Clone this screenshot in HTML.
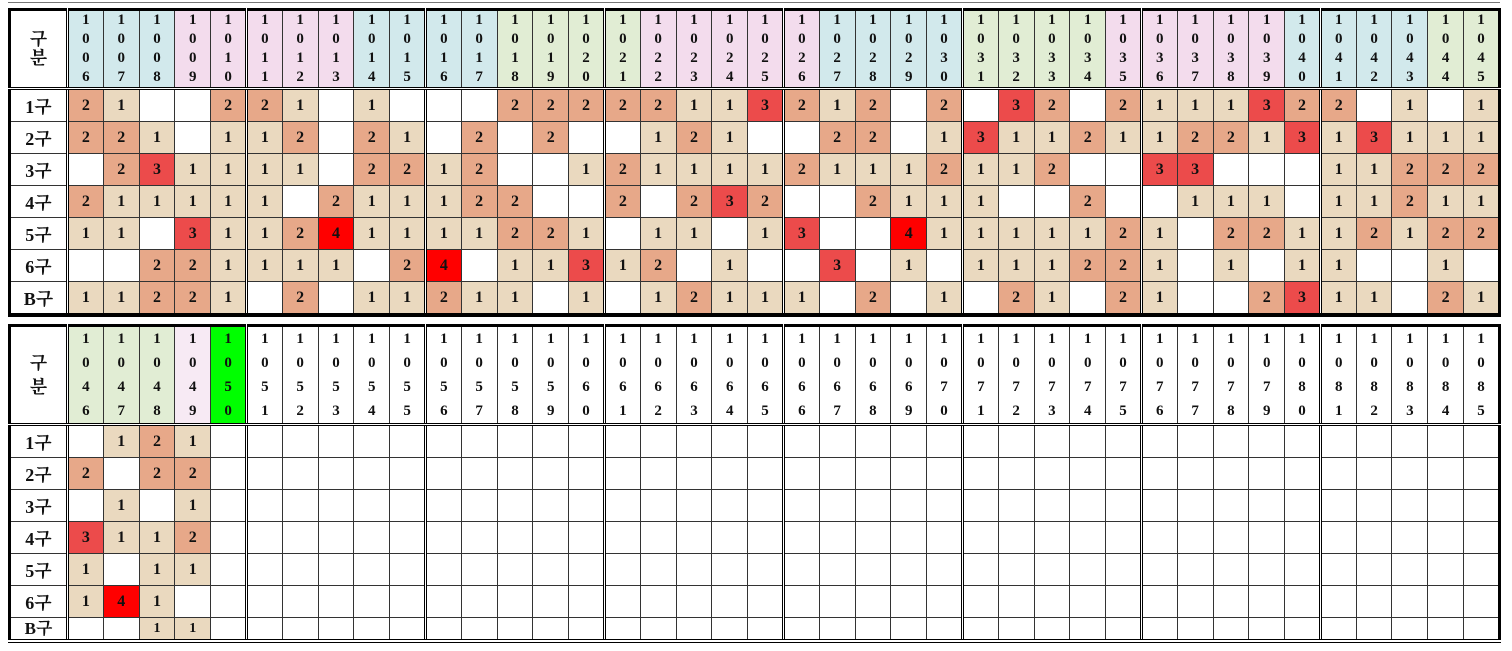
<!DOCTYPE html>
<html><head><meta charset="utf-8">
<style>
html,body{margin:0;padding:0;background:#fff;width:1512px;height:651px;overflow:hidden;position:relative}
.tl{position:absolute;left:8px;top:2px;width:1492px;height:1px;background:#777}
table{position:absolute;left:8px;width:1493px;border-collapse:collapse;table-layout:fixed;border:3px solid #000;font-family:"Liberation Serif","Noto Serif CJK SC",serif;font-weight:bold;color:#111}
td{border:1px solid #333;text-align:center;vertical-align:middle;padding:0;font-size:16px;overflow:hidden}
tr>:nth-child(5n+2){border-left:3px double #000}
td.l{font-size:18px;font-family:"Liberation Serif","Noto Serif CJK KR",serif}
tr.h td{border-bottom:3px double #000;vertical-align:top;font-size:15px}
#t1 tr.h td{line-height:19px;padding-top:0}
#t2 tr.h td{line-height:24px;padding-top:0}
tr.h td.l{vertical-align:middle;line-height:30px;font-size:18px}
.a{background:#ead9bf}.b{background:#e7a889}.c{background:#ec4b4b}.d{background:#ff0000}
.B{background:#d2e9ec}.P{background:#f3dced}.G{background:#e1edd4}.Q{background:#f7eaf4}.L{background:#00ff00}
#t1{top:8px;border-bottom:4px solid #000}#t2{top:324px;border-bottom:4px double #000}
tr.r td{height:31px}
#t2 tr.s td{height:21px;font-size:14px}
#t2 tr.s td.l{font-size:17px;line-height:20px}
</style></head><body>
<div class="tl"></div>
<table id="t1">
<colgroup><col style="width:58px"></colgroup>
<tr class="h" style="height:79px"><td class="l">구<br>분</td>
<td class="B">1<br>0<br>0<br>6</td><td class="B">1<br>0<br>0<br>7</td><td class="B">1<br>0<br>0<br>8</td><td class="P">1<br>0<br>0<br>9</td><td class="P">1<br>0<br>1<br>0</td>
<td class="P">1<br>0<br>1<br>1</td><td class="P">1<br>0<br>1<br>2</td><td class="P">1<br>0<br>1<br>3</td><td class="B">1<br>0<br>1<br>4</td><td class="B">1<br>0<br>1<br>5</td>
<td class="B">1<br>0<br>1<br>6</td><td class="B">1<br>0<br>1<br>7</td><td class="G">1<br>0<br>1<br>8</td><td class="G">1<br>0<br>1<br>9</td><td class="G">1<br>0<br>2<br>0</td>
<td class="G">1<br>0<br>2<br>1</td><td class="P">1<br>0<br>2<br>2</td><td class="P">1<br>0<br>2<br>3</td><td class="P">1<br>0<br>2<br>4</td><td class="P">1<br>0<br>2<br>5</td>
<td class="P">1<br>0<br>2<br>6</td><td class="B">1<br>0<br>2<br>7</td><td class="B">1<br>0<br>2<br>8</td><td class="B">1<br>0<br>2<br>9</td><td class="B">1<br>0<br>3<br>0</td>
<td class="G">1<br>0<br>3<br>1</td><td class="G">1<br>0<br>3<br>2</td><td class="G">1<br>0<br>3<br>3</td><td class="G">1<br>0<br>3<br>4</td><td class="P">1<br>0<br>3<br>5</td>
<td class="P">1<br>0<br>3<br>6</td><td class="P">1<br>0<br>3<br>7</td><td class="P">1<br>0<br>3<br>8</td><td class="P">1<br>0<br>3<br>9</td><td class="B">1<br>0<br>4<br>0</td>
<td class="B">1<br>0<br>4<br>1</td><td class="B">1<br>0<br>4<br>2</td><td class="B">1<br>0<br>4<br>3</td><td class="G">1<br>0<br>4<br>4</td><td class="G">1<br>0<br>4<br>5</td></tr>
<tr class="r"><td class="l">1구</td>
<td class="b">2</td><td class="a">1</td><td></td><td></td><td class="b">2</td>
<td class="b">2</td><td class="a">1</td><td></td><td class="a">1</td><td></td>
<td></td><td></td><td class="b">2</td><td class="b">2</td><td class="b">2</td>
<td class="b">2</td><td class="b">2</td><td class="a">1</td><td class="a">1</td><td class="c">3</td>
<td class="b">2</td><td class="a">1</td><td class="b">2</td><td></td><td class="b">2</td>
<td></td><td class="c">3</td><td class="b">2</td><td></td><td class="b">2</td>
<td class="a">1</td><td class="a">1</td><td class="a">1</td><td class="c">3</td><td class="b">2</td>
<td class="b">2</td><td></td><td class="a">1</td><td></td><td class="a">1</td></tr>
<tr class="r"><td class="l">2구</td>
<td class="b">2</td><td class="b">2</td><td class="a">1</td><td></td><td class="a">1</td>
<td class="a">1</td><td class="b">2</td><td></td><td class="b">2</td><td class="a">1</td>
<td></td><td class="b">2</td><td></td><td class="b">2</td><td></td>
<td></td><td class="a">1</td><td class="b">2</td><td class="a">1</td><td></td>
<td></td><td class="b">2</td><td class="b">2</td><td></td><td class="a">1</td>
<td class="c">3</td><td class="a">1</td><td class="a">1</td><td class="b">2</td><td class="a">1</td>
<td class="a">1</td><td class="b">2</td><td class="b">2</td><td class="a">1</td><td class="c">3</td>
<td class="a">1</td><td class="c">3</td><td class="a">1</td><td class="a">1</td><td class="a">1</td></tr>
<tr class="r"><td class="l">3구</td>
<td></td><td class="b">2</td><td class="c">3</td><td class="a">1</td><td class="a">1</td>
<td class="a">1</td><td class="a">1</td><td></td><td class="b">2</td><td class="b">2</td>
<td class="a">1</td><td class="b">2</td><td></td><td></td><td class="a">1</td>
<td class="b">2</td><td class="a">1</td><td class="a">1</td><td class="a">1</td><td class="a">1</td>
<td class="b">2</td><td class="a">1</td><td class="a">1</td><td class="a">1</td><td class="b">2</td>
<td class="a">1</td><td class="a">1</td><td class="b">2</td><td></td><td></td>
<td class="c">3</td><td class="c">3</td><td></td><td></td><td></td>
<td class="a">1</td><td class="a">1</td><td class="b">2</td><td class="b">2</td><td class="b">2</td></tr>
<tr class="r"><td class="l">4구</td>
<td class="b">2</td><td class="a">1</td><td class="a">1</td><td class="a">1</td><td class="a">1</td>
<td class="a">1</td><td></td><td class="b">2</td><td class="a">1</td><td class="a">1</td>
<td class="a">1</td><td class="b">2</td><td class="b">2</td><td></td><td></td>
<td class="b">2</td><td></td><td class="b">2</td><td class="c">3</td><td class="b">2</td>
<td></td><td></td><td class="b">2</td><td class="a">1</td><td class="a">1</td>
<td class="a">1</td><td></td><td></td><td class="b">2</td><td></td>
<td></td><td class="a">1</td><td class="a">1</td><td class="a">1</td><td></td>
<td class="a">1</td><td class="a">1</td><td class="b">2</td><td class="a">1</td><td class="a">1</td></tr>
<tr class="r"><td class="l">5구</td>
<td class="a">1</td><td class="a">1</td><td></td><td class="c">3</td><td class="a">1</td>
<td class="a">1</td><td class="b">2</td><td class="d">4</td><td class="a">1</td><td class="a">1</td>
<td class="a">1</td><td class="a">1</td><td class="b">2</td><td class="b">2</td><td class="a">1</td>
<td></td><td class="a">1</td><td class="a">1</td><td></td><td class="a">1</td>
<td class="c">3</td><td></td><td></td><td class="d">4</td><td class="a">1</td>
<td class="a">1</td><td class="a">1</td><td class="a">1</td><td class="a">1</td><td class="b">2</td>
<td class="a">1</td><td></td><td class="b">2</td><td class="b">2</td><td class="a">1</td>
<td class="a">1</td><td class="b">2</td><td class="a">1</td><td class="b">2</td><td class="b">2</td></tr>
<tr class="r"><td class="l">6구</td>
<td></td><td></td><td class="b">2</td><td class="b">2</td><td class="a">1</td>
<td class="a">1</td><td class="a">1</td><td class="a">1</td><td></td><td class="b">2</td>
<td class="d">4</td><td></td><td class="a">1</td><td class="a">1</td><td class="c">3</td>
<td class="a">1</td><td class="b">2</td><td></td><td class="a">1</td><td></td>
<td></td><td class="c">3</td><td></td><td class="a">1</td><td></td>
<td class="a">1</td><td class="a">1</td><td class="a">1</td><td class="b">2</td><td class="b">2</td>
<td class="a">1</td><td></td><td class="a">1</td><td></td><td class="a">1</td>
<td class="a">1</td><td></td><td></td><td class="a">1</td><td></td></tr>
<tr class="r"><td class="l">B구</td>
<td class="a">1</td><td class="a">1</td><td class="b">2</td><td class="b">2</td><td class="a">1</td>
<td></td><td class="b">2</td><td></td><td class="a">1</td><td class="a">1</td>
<td class="b">2</td><td class="a">1</td><td class="a">1</td><td></td><td class="a">1</td>
<td></td><td class="a">1</td><td class="b">2</td><td class="a">1</td><td class="a">1</td>
<td class="a">1</td><td></td><td class="b">2</td><td></td><td class="a">1</td>
<td></td><td class="b">2</td><td class="a">1</td><td></td><td class="b">2</td>
<td class="a">1</td><td></td><td></td><td class="b">2</td><td class="c">3</td>
<td class="a">1</td><td class="a">1</td><td></td><td class="b">2</td><td class="a">1</td></tr>
</table>

<table id="t2">
<colgroup><col style="width:58px"></colgroup>
<tr class="h" style="height:96px"><td class="l">구<br>분</td>
<td class="G">1<br>0<br>4<br>6</td><td class="G">1<br>0<br>4<br>7</td><td class="G">1<br>0<br>4<br>8</td><td class="Q">1<br>0<br>4<br>9</td><td class="L">1<br>0<br>5<br>0</td>
<td>1<br>0<br>5<br>1</td><td>1<br>0<br>5<br>2</td><td>1<br>0<br>5<br>3</td><td>1<br>0<br>5<br>4</td><td>1<br>0<br>5<br>5</td>
<td>1<br>0<br>5<br>6</td><td>1<br>0<br>5<br>7</td><td>1<br>0<br>5<br>8</td><td>1<br>0<br>5<br>9</td><td>1<br>0<br>6<br>0</td>
<td>1<br>0<br>6<br>1</td><td>1<br>0<br>6<br>2</td><td>1<br>0<br>6<br>3</td><td>1<br>0<br>6<br>4</td><td>1<br>0<br>6<br>5</td>
<td>1<br>0<br>6<br>6</td><td>1<br>0<br>6<br>7</td><td>1<br>0<br>6<br>8</td><td>1<br>0<br>6<br>9</td><td>1<br>0<br>7<br>0</td>
<td>1<br>0<br>7<br>1</td><td>1<br>0<br>7<br>2</td><td>1<br>0<br>7<br>3</td><td>1<br>0<br>7<br>4</td><td>1<br>0<br>7<br>5</td>
<td>1<br>0<br>7<br>6</td><td>1<br>0<br>7<br>7</td><td>1<br>0<br>7<br>8</td><td>1<br>0<br>7<br>9</td><td>1<br>0<br>8<br>0</td>
<td>1<br>0<br>8<br>1</td><td>1<br>0<br>8<br>2</td><td>1<br>0<br>8<br>3</td><td>1<br>0<br>8<br>4</td><td>1<br>0<br>8<br>5</td></tr>
<tr class="r"><td class="l">1구</td><td></td><td class="a">1</td><td class="b">2</td><td class="a">1</td><td></td><td></td><td></td><td></td><td></td><td></td><td></td><td></td><td></td><td></td><td></td><td></td><td></td><td></td><td></td><td></td><td></td><td></td><td></td><td></td><td></td><td></td><td></td><td></td><td></td><td></td><td></td><td></td><td></td><td></td><td></td><td></td><td></td><td></td><td></td><td></td></tr>
<tr class="r"><td class="l">2구</td><td class="b">2</td><td></td><td class="b">2</td><td class="b">2</td><td></td><td></td><td></td><td></td><td></td><td></td><td></td><td></td><td></td><td></td><td></td><td></td><td></td><td></td><td></td><td></td><td></td><td></td><td></td><td></td><td></td><td></td><td></td><td></td><td></td><td></td><td></td><td></td><td></td><td></td><td></td><td></td><td></td><td></td><td></td><td></td></tr>
<tr class="r"><td class="l">3구</td><td></td><td class="a">1</td><td></td><td class="a">1</td><td></td><td></td><td></td><td></td><td></td><td></td><td></td><td></td><td></td><td></td><td></td><td></td><td></td><td></td><td></td><td></td><td></td><td></td><td></td><td></td><td></td><td></td><td></td><td></td><td></td><td></td><td></td><td></td><td></td><td></td><td></td><td></td><td></td><td></td><td></td><td></td></tr>
<tr class="r"><td class="l">4구</td><td class="c">3</td><td class="a">1</td><td class="a">1</td><td class="b">2</td><td></td><td></td><td></td><td></td><td></td><td></td><td></td><td></td><td></td><td></td><td></td><td></td><td></td><td></td><td></td><td></td><td></td><td></td><td></td><td></td><td></td><td></td><td></td><td></td><td></td><td></td><td></td><td></td><td></td><td></td><td></td><td></td><td></td><td></td><td></td><td></td></tr>
<tr class="r"><td class="l">5구</td><td class="a">1</td><td></td><td class="a">1</td><td class="a">1</td><td></td><td></td><td></td><td></td><td></td><td></td><td></td><td></td><td></td><td></td><td></td><td></td><td></td><td></td><td></td><td></td><td></td><td></td><td></td><td></td><td></td><td></td><td></td><td></td><td></td><td></td><td></td><td></td><td></td><td></td><td></td><td></td><td></td><td></td><td></td><td></td></tr>
<tr class="r"><td class="l">6구</td><td class="a">1</td><td class="d">4</td><td class="a">1</td><td></td><td></td><td></td><td></td><td></td><td></td><td></td><td></td><td></td><td></td><td></td><td></td><td></td><td></td><td></td><td></td><td></td><td></td><td></td><td></td><td></td><td></td><td></td><td></td><td></td><td></td><td></td><td></td><td></td><td></td><td></td><td></td><td></td><td></td><td></td><td></td><td></td></tr>
<tr class="s"><td class="l">B구</td><td></td><td></td><td class="a">1</td><td class="a">1</td><td></td><td></td><td></td><td></td><td></td><td></td><td></td><td></td><td></td><td></td><td></td><td></td><td></td><td></td><td></td><td></td><td></td><td></td><td></td><td></td><td></td><td></td><td></td><td></td><td></td><td></td><td></td><td></td><td></td><td></td><td></td><td></td><td></td><td></td><td></td><td></td></tr>
</table>
</body></html>
